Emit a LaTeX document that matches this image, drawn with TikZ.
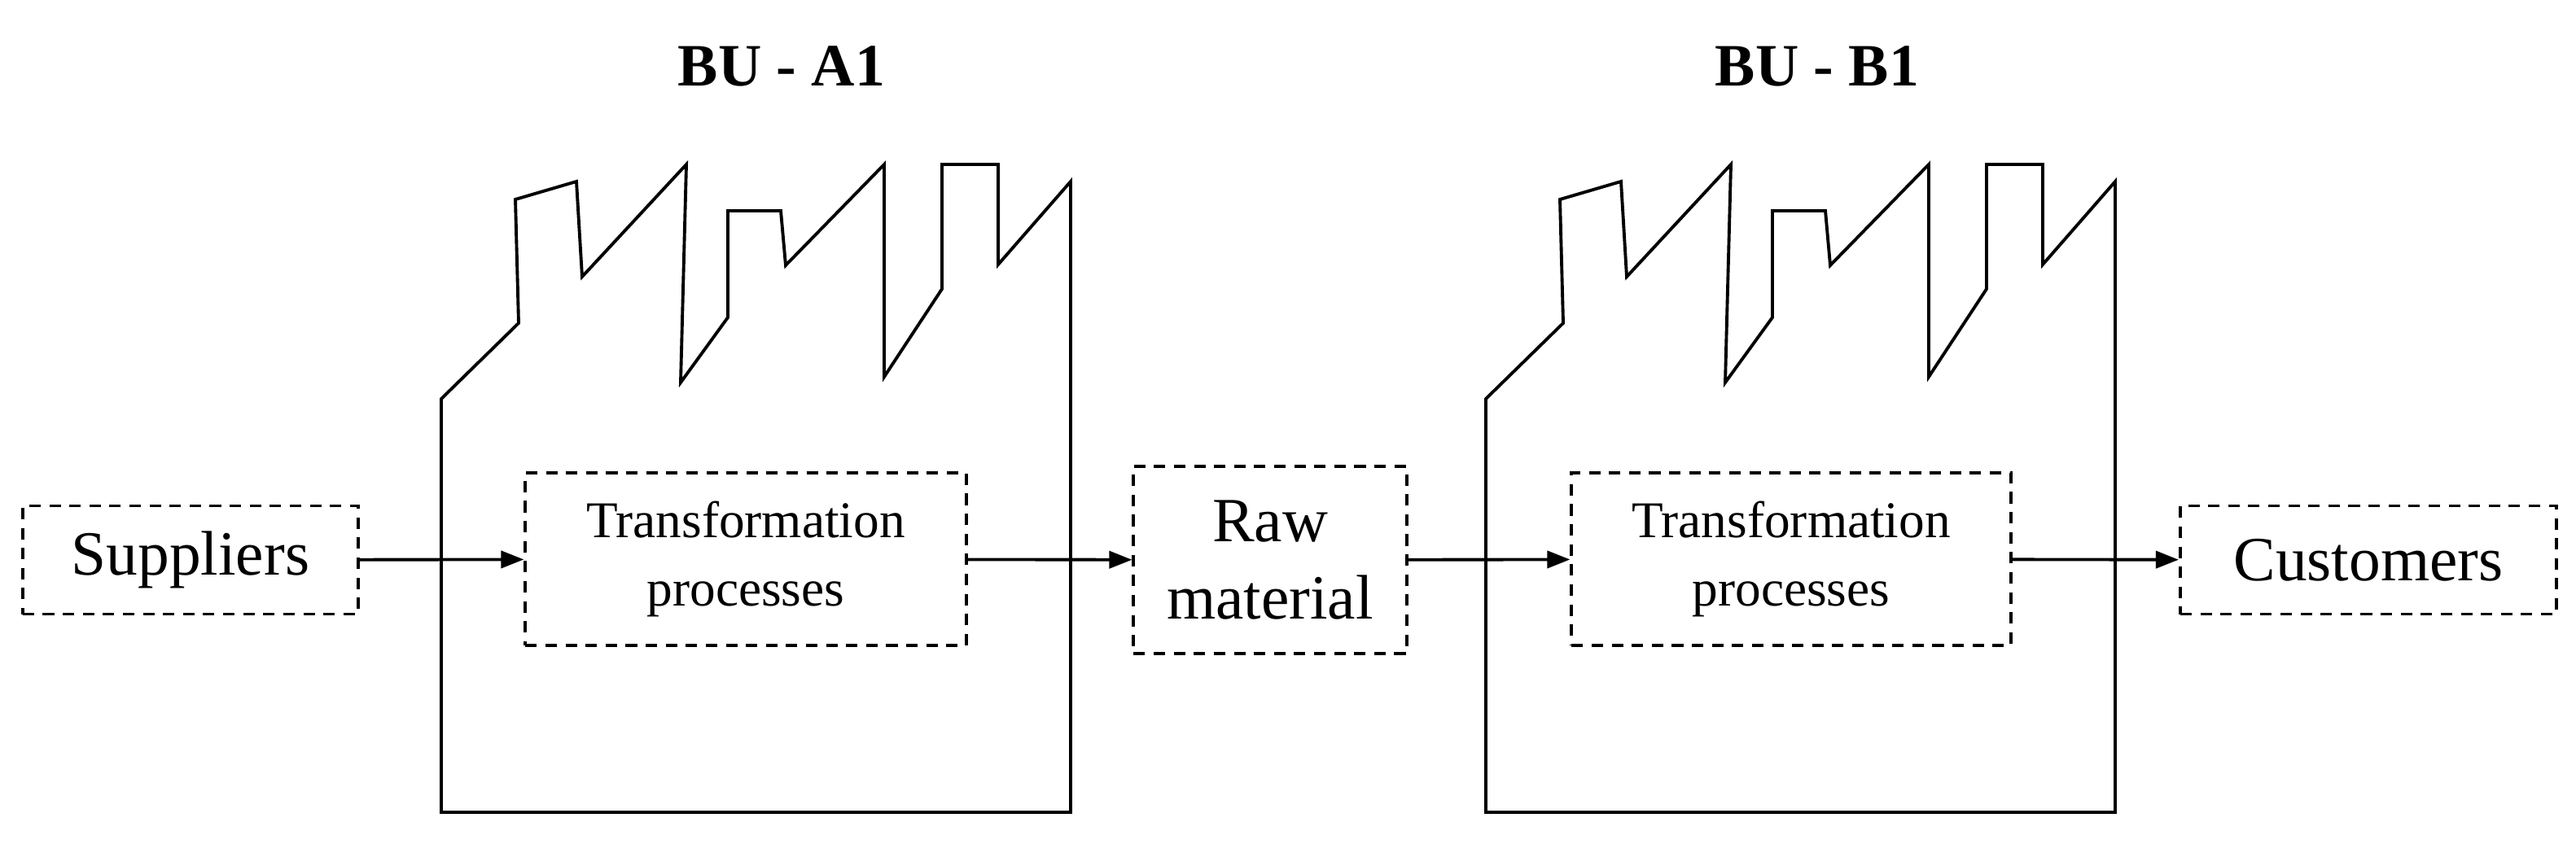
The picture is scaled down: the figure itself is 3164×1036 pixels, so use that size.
\documentclass[tikz,border=0pt]{standalone}
\usepackage{fontspec}
\setmainfont{Liberation Serif}
\usetikzlibrary{positioning,arrows.meta}
\begin{document}
\begin{tikzpicture}[x=0.01cm, y=-0.01cm, >={Triangle[length=8pt,width=6pt]}, line width=1.1pt]

    \tikzset{%
    every box/.style={
        draw,
        dashed,
        dash pattern=on 4pt off 3pt,
        inner sep=0pt,
        align=center
        },
    factory/.style={
        line join=miter
        },
    }

    \useasboundingbox (0,0) rectangle (3164,1036);

    % Factory outlines
    \foreach \dx/\n in {0/A1,1283/B1}
    \draw [factory, xshift=\dx*0.01cm] (542,998) -- (542,490) -- (637,397) -- (633,245)
        -- (708,223) -- (715,340) -- (843,202) -- (836,470) -- (894,390) -- (894,259)
        -- (959,259) -- (965,326) -- (1086,202) -- (1086,463) -- (1157,355) -- (1157,202)
        -- (1226,202) -- (1226,325) -- (1315,223) -- (1315,998) -- cycle;

    % Factory labels
    \node [font=\fontsize{21}{25}\selectfont\bfseries] (label-A1) at (960,81) {BU - A1};
    \node [font=\fontsize{21}{25}\selectfont\bfseries] (label-B1) at (2232,81) {BU - B1};

    % Boxes
    \node [every box, minimum width=4.12cm, minimum height=1.33cm, font=\fontsize{22}{26}\selectfont] (suppliers) at (234,688) {Suppliers};
    \node [every box, minimum width=5.41cm, minimum height=2.12cm, font=\fontsize{18}{24}\selectfont] (trans-A1) at (916,687) {Transformation\\processes};
    \node [every box, minimum width=3.35cm, minimum height=2.30cm, font=\fontsize{22}{27}\selectfont] (raw) at (1560,688) {Raw\\material};
    \node [every box, minimum width=5.39cm, minimum height=2.12cm, font=\fontsize{18}{24}\selectfont] (trans-B1) at (2200,687) {Transformation\\processes};
    \node [every box, minimum width=4.62cm, minimum height=1.33cm, font=\fontsize{22}{26}\selectfont] (customers) at (2909,688) {Customers};

    % Flow arrows
    \draw [->] (suppliers) -- (trans-A1);
    \draw [->] (trans-A1) -- (raw);
    \draw [->] (raw) -- (trans-B1);
    \draw [->] (trans-B1) -- (customers);

\end{tikzpicture}
\end{document}
